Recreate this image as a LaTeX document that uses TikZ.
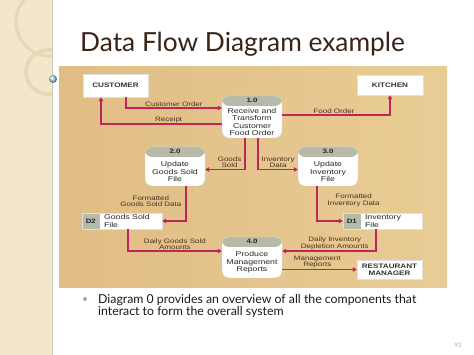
\documentclass[tikz,border=0pt]{standalone}
\usepackage{fontspec}
\setmainfont{Lato}
\newfontfamily\dfdfont[FakeStretch=1.25]{Liberation Sans}
\usetikzlibrary{arrows.meta, positioning, calc}

\definecolor{stripbg}{HTML}{F4E6CB}
\definecolor{stripline}{HTML}{C9CCB9}
\definecolor{stripring}{HTML}{E6D7B8}
\definecolor{tanL}{HTML}{E0BD85}
\definecolor{tanM}{HTML}{F6E4C2}
\definecolor{tanR}{HTML}{E9CC95}
\definecolor{flowred}{HTML}{C0245A}
\definecolor{headgray}{HTML}{B6BAA8}
\definecolor{titlebrown}{HTML}{3A2416}
\definecolor{lblbrown}{HTML}{4A3220}
\definecolor{bulletteal}{HTML}{8FB3B5}
\definecolor{dotblue}{HTML}{B4DDF2}

\begin{document}
\begin{tikzpicture}[
  x=1pt, y=-1pt,
  entity/.style = {rectangle, fill=white, draw=black!12, inner sep=0pt,
                   font=\dfdfont\bfseries\fontsize{6.5}{7.4}\selectfont,
                   text=black!80, align=center},
  proc/.style = {rectangle, rounded corners=7pt, fill=white, draw=black!20,
                 minimum width=60pt, inner sep=0pt,
                 path picture={\fill[headgray] (path picture bounding box.north west)
                   rectangle ([yshift=-10pt]path picture bounding box.north east);}},
  procid/.style = {font=\dfdfont\bfseries\fontsize{6.3}{7}\selectfont,
                   text=black!85, inner sep=0pt},
  proctxt/.style = {font=\dfdfont\fontsize{7}{7.6}\selectfont,
                    text=black!85, align=center, inner sep=0pt},
  store/.style = {rectangle, fill=white, draw=black!12, inner sep=0pt,
                  minimum height=16pt,
                  path picture={\fill[headgray] (path picture bounding box.north west)
                    rectangle ([xshift=18pt]path picture bounding box.south west);}},
  storeid/.style = {font=\dfdfont\bfseries\fontsize{6.3}{7}\selectfont,
                    text=black!85, inner sep=0pt},
  storetxt/.style = {font=\dfdfont\fontsize{7}{7.4}\selectfont,
                     text=black!85, align=left, inner sep=0pt},
  flow/.style = {-{Triangle[length=4pt, width=4.5pt]}, draw=flowred,
                 line width=1.3pt},
  lbl/.style = {font=\dfdfont\fontsize{6.4}{6.2}\selectfont, text=lblbrown,
                align=center, inner sep=1pt},
]

% slide background
\useasboundingbox (0,0) rectangle (474,355);
\fill[white] (0,0) rectangle (474,355);
\fill[stripbg] (0,0) rectangle (52,355);
\begin{scope}
  \clip (0,0) rectangle (52,355);
  \draw[stripring, line width=3pt] (50,22) circle (34);
  \draw[stripring, line width=4pt] (48,72) circle (22);
\end{scope}
\draw[stripline, line width=0.8pt] (52,0) -- (52,355);
\shade[ball color=dotblue] (53,79) circle (4);

\node[anchor=base west, inner sep=0pt, text=titlebrown,
      font=\fontsize{26.3}{28}\selectfont] (title) at (80,52) {Data Flow Diagram example};

% diagram panel
\shade[left color=tanL, middle color=tanM, right color=tanR] (59,67) rectangle (447,288);

% externals
\node[entity, minimum width=65pt, minimum height=23pt] (customer) at (115.5,85.5) {CUSTOMER};
\node[entity, minimum width=66pt, minimum height=20pt] (kitchen) at (390,85) {KITCHEN};
\node[entity, minimum width=65pt, minimum height=19pt] (manager) at (389.5,269.5) {RESTAURANT\\MANAGER};

% processes
\node[proc, minimum height=42pt] (p1) at (252,117) {};
\node[procid] (p1id) at ($(p1.north)+(0,5)$) {1.0};
\node[proctxt] (p1txt) at ($(p1.center)+(0,5)$) {Receive and\\Transform\\Customer\\Food Order};

\node[proc, minimum height=39pt] (p2) at (175,166.5) {};
\node[procid] (p2id) at ($(p2.north)+(0,5)$) {2.0};
\node[proctxt] (p2txt) at ($(p2.center)+(0,5)$) {Update\\Goods Sold\\File};

\node[proc, minimum height=39pt] (p3) at (328,166.5) {};
\node[procid] (p3id) at ($(p3.north)+(0,5)$) {3.0};
\node[proctxt] (p3txt) at ($(p3.center)+(0,5)$) {Update\\Inventory\\File};

\node[proc, minimum height=41pt] (p4) at (252,257.5) {};
\node[procid] (p4id) at ($(p4.north)+(0,5)$) {4.0};
\node[proctxt] (p4txt) at ($(p4.center)+(0,5)$) {Produce\\Management\\Reports};

% data stores
\node[store, minimum width=80pt] (d2) at (122,221) {};
\node[storeid] (d2id) at ($(d2.west)+(9,0)$) {D2};
\node[storetxt, anchor=west] (d2txt) at ($(d2.west)+(22,0)$) {Goods Sold\\File};

\node[store, minimum width=79pt] (d1) at (382.5,221) {};
\node[storeid] (d1id) at ($(d1.west)+(9,0)$) {D1};
\node[storetxt, anchor=west] (d1txt) at ($(d1.west)+(22,0)$) {Inventory\\File};

% flows
\draw[flow] ($(customer.south)+(10.5,0)$) |- node[lbl, above, pos=0.75]{Customer Order} ($(p1.west)+(0,-9)$);
\draw[flow] ($(p1.west)+(0,7)$) -| node[lbl, above, pos=0.22]{Receipt} ($(customer.south)+(-14.5,0)$);
\draw[flow] ($(p1.east)+(0,-2)$) -| node[lbl, above, pos=0.24]{Food Order} (kitchen.south);
\draw[flow] ($(p1.south)+(-7,0)$) |- node[lbl, anchor=south east, pos=0.5, xshift=-2pt]{Goods\\Sold} ($(p2.east)+(0,3)$);
\draw[flow] ($(p1.south)+(6,0)$) |- node[lbl, anchor=south west, pos=0.5, xshift=2pt]{Inventory\\Data} ($(p3.west)+(0,3)$);
\draw[flow] ($(p2.south)+(11,0)$) |- node[lbl, anchor=south east, pos=0.5, xshift=-3pt, yshift=13pt]{Formatted\\Goods Sold Data} (d2.east);
\draw[flow] ($(p3.south)+(-11,0)$) |- node[lbl, anchor=south west, pos=0.5, xshift=9pt, yshift=13pt]{Formatted\\Inventory Data} (d1.west);
\draw[flow] ($(d2.south)+(6,0)$) |- node[lbl, above, pos=0.75]{Daily Goods Sold\\Amounts} ($(p4.west)+(0,-6.5)$);
\draw[flow] ($(d1.south)+(-6.5,0)$) |- node[lbl, above, pos=0.72]{Daily Inventory\\Depletion Amounts} ($(p4.east)+(0,-6.5)$);
\draw[flow] ($(p4.east)+(0,12)$) -- node[lbl, above, pos=0.47]{Management\\Reports} (manager.west);

% caption
\fill[bulletteal] (85,299) circle (2);
\node[anchor=north west, inner sep=0pt, align=left,
      font=\fontsize{12.3}{12.5}\selectfont, text=black!90] (bullet) at (98,294)
  {Diagram 0 provides an overview of all the components that\\interact to form the overall system};
\node[font=\fontsize{6}{7}\selectfont, text=black!35, inner sep=0pt] (pagenum) at (458,345) {92};

\end{tikzpicture}
\end{document}
